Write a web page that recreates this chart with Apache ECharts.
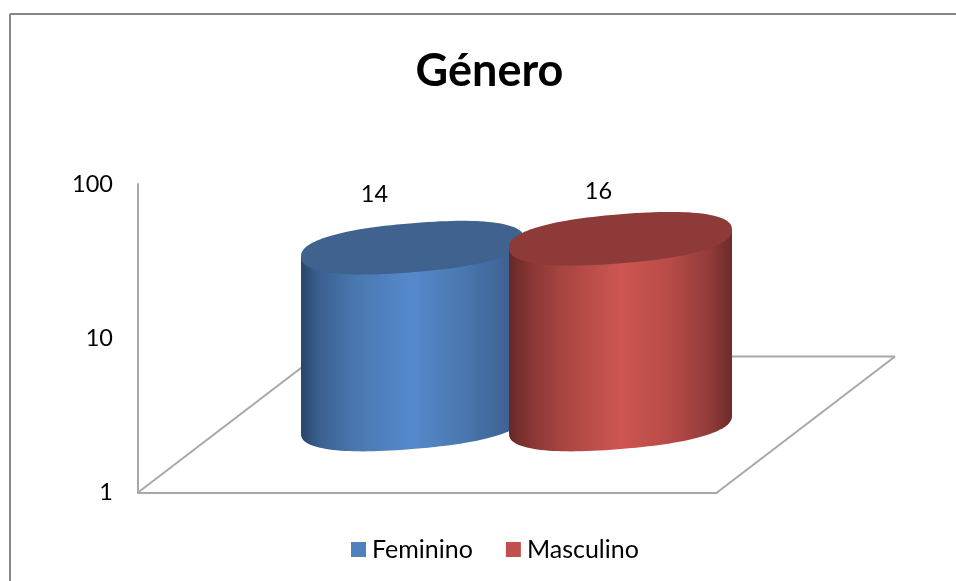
<!DOCTYPE html>
<html>
<head>
<meta charset="utf-8">
<style>html,body{margin:0;padding:0;background:#fff}#c{width:956px;height:581px}</style>
<script src="https://cdn.jsdelivr.net/npm/echarts@6/dist/echarts.min.js"></script>
</head>
<body>
<div id="c"></div>
<script>
var titleText = 'Género';
var categories = ['Género'];
var seriesNames = ['Feminino', 'Masculino'];
var femininoValues = [14];
var masculinoValues = [16];
var axisMin = 1;
var axisMax = 100;

var depthX = 178, depthY = 136;
var radiusX = 111.5, radiusY = 24.5, tilt = 9, roundness = 0.85;
var font = 'Lato, Carlito, sans-serif';
var lineColor = '#a8a8a8';

function spow(v) {
  return (v < 0 ? -1 : 1) * Math.pow(Math.abs(v), roundness);
}

function ellipsePoints(cx, cy, from, to, n) {
  var pts = [];
  for (var i = 0; i <= n; i++) {
    var t = from + (to - from) * i / n;
    var c = spow(Math.cos(t)), s = spow(Math.sin(t));
    pts.push([cx + radiusX * c, cy - tilt * c + radiusY * s]);
  }
  return pts;
}

function cylinder(opts) {
  return function (params, api) {
    var top = api.coord([api.value(0), api.value(1)]);
    var base = api.coord([api.value(0), axisMin]);
    var cx = top[0] + depthX / 2 + opts.offset;
    var topY = top[1] - depthY / 2;
    var baseY = base[1] - depthY / 2;
    var bottomArc = ellipsePoints(cx, baseY, Math.PI, 0, 64);
    var side = [[cx + radiusX, topY - tilt], [cx - radiusX, topY + tilt]].concat(bottomArc);
    var face = ellipsePoints(cx, topY, 0, Math.PI * 2, 128);
    return {
      type: 'group',
      children: [
        {
          type: 'polygon',
          shape: { points: side },
          style: {
            fill: new echarts.graphic.LinearGradient(0, 0, 1, 0, opts.stops)
          }
        },
        { type: 'polygon', shape: { points: face }, style: { fill: opts.topColor } },
        {
          type: 'text',
          style: {
            x: cx + opts.labelDx,
            y: topY + opts.labelDy,
            text: String(api.value(1)),
            fill: '#000',
            font: '23.5px ' + font,
            align: 'center',
            verticalAlign: 'middle'
          }
        }
      ]
    };
  };
}

function floorLines(params) {
  var g = params.coordSys;
  var x0 = g.x, x1 = g.x + g.width, y = g.y + g.height;
  var ls = { stroke: lineColor, lineWidth: 2, fill: null };
  return {
    type: 'group',
    children: [
      { type: 'line', shape: { x1: x0, y1: y, x2: x0 + depthX, y2: y - depthY }, style: ls },
      { type: 'line', shape: { x1: x0 + depthX, y1: y - depthY, x2: x1 + depthX, y2: y - depthY }, style: ls },
      { type: 'line', shape: { x1: x1, y1: y, x2: x1 + depthX, y2: y - depthY }, style: ls }
    ]
  };
}

var chart = echarts.init(document.getElementById('c'), null, { renderer: 'canvas' });
chart.setOption({
  animation: false,
  backgroundColor: '#fff',
  title: {
    text: titleText,
    left: 484.5,
    top: 44,
    textAlign: 'center',
    textStyle: { fontFamily: font, fontWeight: 'bold', fontSize: 45, color: '#000' }
  },
  legend: {
    data: seriesNames,
    left: 346,
    top: 532,
    icon: 'rect',
    itemWidth: 15,
    itemHeight: 15,
    itemGap: 33,
    textStyle: { fontFamily: font, fontSize: 25, color: '#000', padding: [0, 0, 0, 1] }
  },
  grid: { left: 138, right: 239, top: 184, bottom: 88.5 },
  xAxis: {
    type: 'category',
    data: categories,
    axisTick: { show: false },
    axisLabel: { show: false },
    axisLine: { onZero: false, lineStyle: { color: lineColor, width: 2 } }
  },
  yAxis: {
    type: 'log',
    logBase: 10,
    min: axisMin,
    max: axisMax,
    axisTick: { show: false },
    splitLine: { show: false },
    minorSplitLine: { show: false },
    axisLine: { show: true, onZero: false, lineStyle: { color: lineColor, width: 2 } },
    axisLabel: { margin: 25, color: '#000', fontFamily: font, fontSize: 23.5, padding: [7, 0, 0, 0] }
  },
  graphic: [
    { type: 'line', silent: true, z: -1, shape: { x1: 10, y1: 14, x2: 956, y2: 14 }, style: { stroke: '#868686', lineWidth: 2 } },
    { type: 'line', silent: true, z: -1, shape: { x1: 10, y1: 14, x2: 10, y2: 581 }, style: { stroke: '#868686', lineWidth: 2 } }
  ],
  series: [
    { type: 'custom', name: 'Piso', coordinateSystem: 'cartesian2d', clip: false, z: 1,
      data: [[0, axisMin]], renderItem: floorLines, silent: true },
    {
      type: 'custom', name: seriesNames[0], coordinateSystem: 'cartesian2d', clip: false, z: 2,
      itemStyle: { color: '#4f81bd' },
      data: femininoValues.map(function (v, i) { return [i, v]; }),
      renderItem: cylinder({
        offset: -104, labelDx: -38, labelDy: -53, topColor: '#3f628e',
        stops: [
          { offset: 0, color: '#2b4566' }, { offset: 0.08, color: '#3a6090' },
          { offset: 0.25, color: '#4a78b0' }, { offset: 0.5, color: '#5689cc' },
          { offset: 0.72, color: '#4a78b0' }, { offset: 0.92, color: '#3e6494' }, { offset: 1, color: '#345680' }
        ]
      })
    },
    {
      type: 'custom', name: seriesNames[1], coordinateSystem: 'cartesian2d', clip: false, z: 3,
      itemStyle: { color: '#c0504d' },
      data: masculinoValues.map(function (v, i) { return [i, v]; }),
      renderItem: cylinder({
        offset: 104, labelDx: -22, labelDy: -47, topColor: '#8e3a38',
        stops: [
          { offset: 0, color: '#642826' }, { offset: 0.1, color: '#8a3735' },
          { offset: 0.25, color: '#aa4542' }, { offset: 0.5, color: '#cd5652' },
          { offset: 0.72, color: '#b84b48' }, { offset: 0.9, color: '#913b39' }, { offset: 1, color: '#6b2b29' }
        ]
      })
    }
  ]
});
</script>
</body>
</html>
